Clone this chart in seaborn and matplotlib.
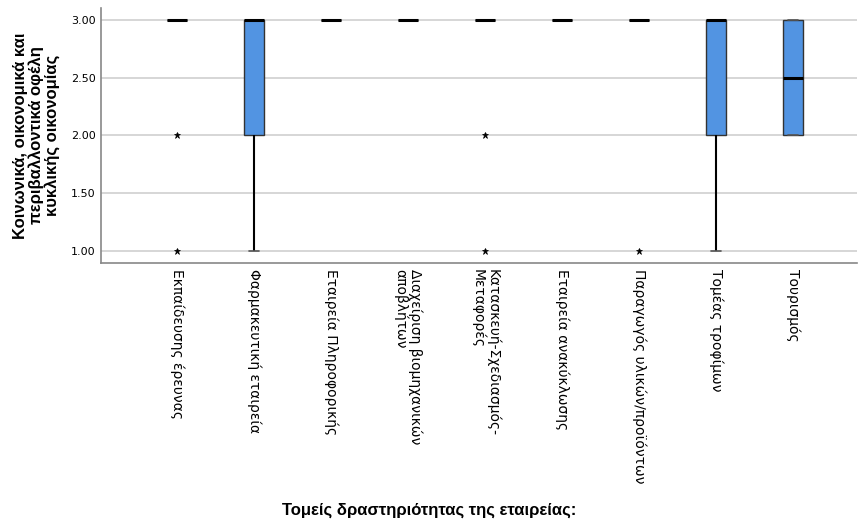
import pandas as pd
import seaborn as sns
import matplotlib.pyplot as plt

# --- DADOS ---
sectors = [
    'Εκπαίδευσης έρευνας',
    'Φαρμακευτική εταιρεία',
    'Εταιρεία Πληροφορικής',
    'Διαχείριση βιομηχανικών\nαποβλήτων',
    'Κατασκευή-Σχεδιασμός-\nΜεταφορές',
    'Εταιρεία ανακύκλωσης',
    'Παραγωγός υλικών/προϊόντων',
    'Τομέας τροφίμων',
    'Τουρισμός',
]

# respostas individuais por setor (escala 1-3)
educ_research = [3, 3, 3, 3, 3, 3, 3, 3, 2, 1]
pharma = [1, 2, 2, 3, 3, 3, 3]
it_company = [3, 3, 3, 3]
waste_mgmt = [3, 3, 3]
construction = [3, 3, 3, 3, 3, 3, 3, 3, 2, 1]
recycling = [3, 3, 3]
producer = [3, 3, 3, 3, 3, 3, 1]
food = [1, 2, 2, 3, 3, 3, 3]
tourism = [2, 2, 3, 3]

values = [educ_research, pharma, it_company, waste_mgmt, construction,
          recycling, producer, food, tourism]

y_label = 'Κοινωνικά, οικονομικά και\nπεριβαλλοντικά οφέλη\nκυκλικής οικονομίας'
x_label = 'Τομείς δραστηριότητας της εταιρείας:'
y_ticks = [1.0, 1.5, 2.0, 2.5, 3.0]

rows = []
for s, vals in zip(sectors, values):
    for v in vals:
        rows.append({'sector': s, 'score': v})
df = pd.DataFrame(rows)

sns.set_theme(style='white')
plt.rcParams['font.family'] = ['Liberation Sans', 'DejaVu Sans']
plt.rcParams['text.color'] = 'black'
plt.rcParams['axes.labelcolor'] = 'black'
plt.rcParams['xtick.color'] = 'black'
plt.rcParams['ytick.color'] = 'black'

fig = plt.figure(figsize=(8.59, 5.25), dpi=100)
ax = fig.add_axes([0.1176, 0.499, 0.88, 0.486])

for yv in y_ticks:
    ax.axhline(yv, color='#cfcfcf', lw=1.2, zorder=0)

sns.boxplot(
    data=df, x='sector', y='score', order=sectors, ax=ax,
    color='#5294e2', saturation=1, width=0.26, linecolor='#333333', linewidth=1,
    whis=1.5,
    medianprops={'color': 'black', 'linewidth': 2.2},
    whiskerprops={'color': 'black', 'linewidth': 1.5},
    capprops={'color': '#555555', 'linewidth': 1.2},
    flierprops={'marker': '*', 'markerfacecolor': 'black', 'markeredgecolor': 'black',
                'markersize': 5, 'markeredgewidth': 0.5},
)

ax.set_xlim(-0.99, 8.83)
ax.set_ylim(0.896, 3.104)
ax.set_yticks(y_ticks)
ax.set_yticklabels([f'{t:.2f}' for t in y_ticks], fontsize=8, family='DejaVu Sans')
ax.set_xticks(range(len(sectors)))
ax.set_xticklabels(sectors, rotation=270, ha='center', va='top', fontsize=10,
                   family='DejaVu Sans', linespacing=1.0, multialignment='left')
ax.tick_params(axis='both', length=0, pad=4)

ax.set_ylabel(y_label, fontsize=12, fontweight='bold', linespacing=1.0, labelpad=8)
ax.set_xlabel('')
fig.text(0.5, 0.028, x_label, ha='center', va='center', fontsize=12, fontweight='bold')

for side in ['top', 'right']:
    ax.spines[side].set_visible(False)
for side in ['left', 'bottom']:
    ax.spines[side].set_color('#888888')
    ax.spines[side].set_linewidth(1.2)

plt.savefig('out.png', dpi=100)
plt.close()
